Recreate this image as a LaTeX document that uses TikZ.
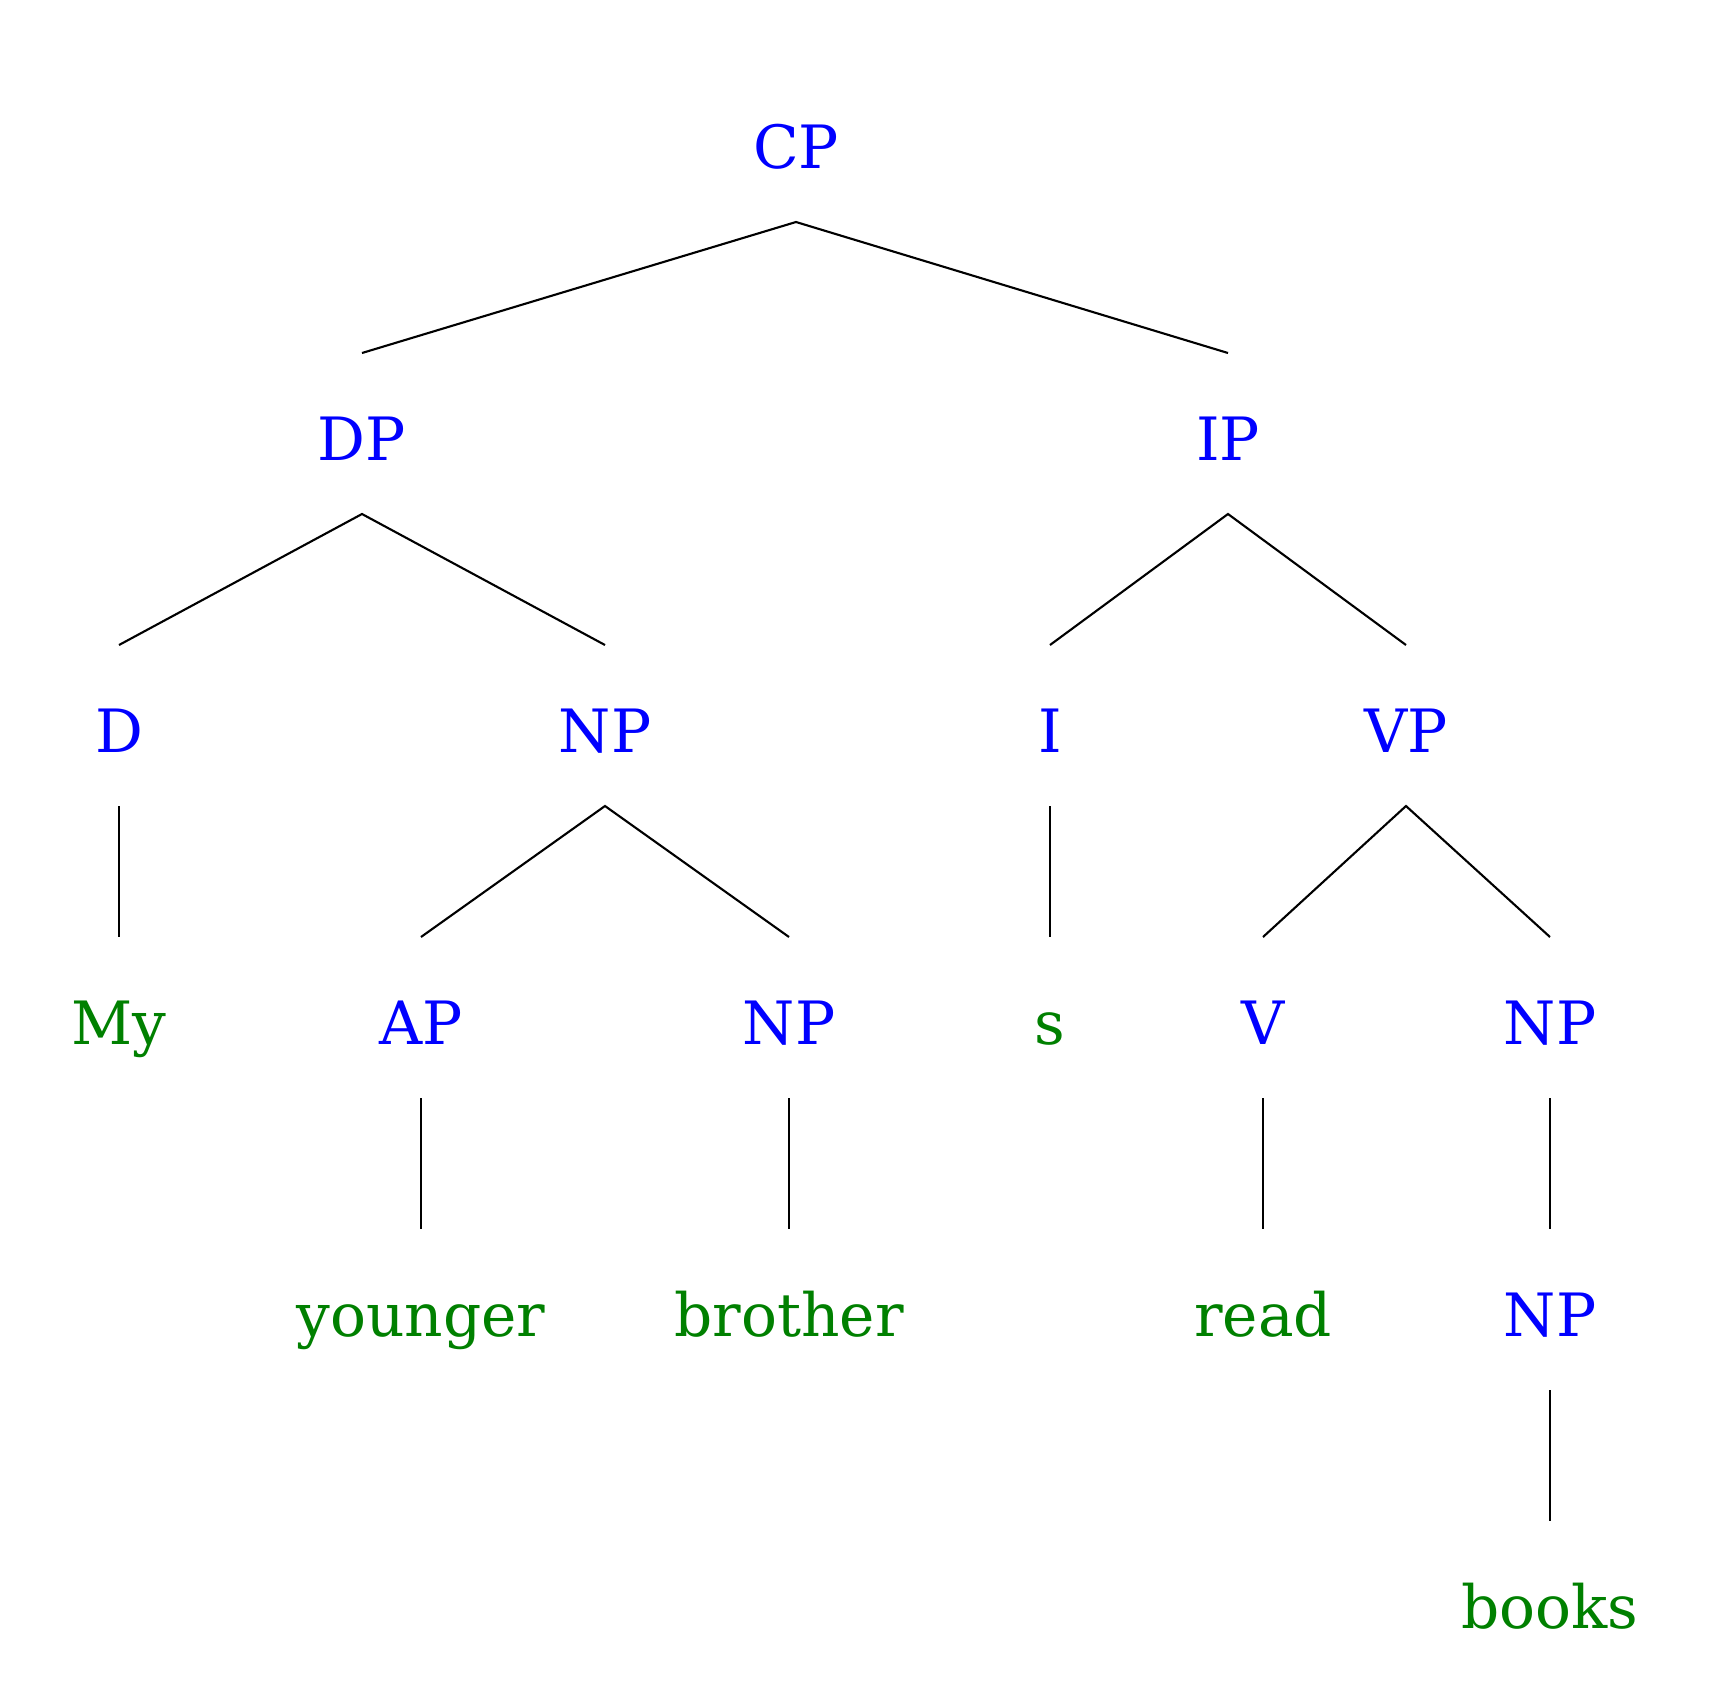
\documentclass[tikz,border=0pt]{standalone}
\usepackage{fontspec}
\setmainfont{DejaVu Serif}
\definecolor{treeblue}{RGB}{0,0,255}
\definecolor{treegreen}{RGB}{0,128,0}

\begin{document}
\begin{tikzpicture}

    \tikzstyle{label} = [anchor=base, inner xsep=0, inner ysep=0.2cm, outer sep=0, text height=0.87cm, text depth=0.34cm, font=\fontsize{17}{20}\selectfont];
    \tikzstyle{phrase} = [label, text=treeblue];
    \tikzstyle{word} = [label, text=treegreen];
    \tikzstyle{branch} = [line width=0.6pt, black];

    \useasboundingbox (0,0) rectangle (17.16,-17.08);

    % Level 0
    \node[phrase] (CP) at (7.96,-1.68) {CP};

    % Level 1
    \node[phrase] (DP) at (3.62,-4.60) {DP};
    \node[phrase] (IP) at (12.28,-4.60) {IP};

    % Level 2
    \node[phrase] (D) at (1.19,-7.52) {D};
    \node[phrase] (NP1) at (6.05,-7.52) {NP};
    \node[phrase] (I) at (10.50,-7.52) {I};
    \node[phrase] (VP) at (14.06,-7.52) {VP};

    % Level 3
    \node[word] (My) at (1.19,-10.44) {My};
    \node[phrase] (AP) at (4.21,-10.44) {AP};
    \node[phrase] (NP2) at (7.89,-10.44) {NP};
    \node[word] (S) at (10.50,-10.44) {s};
    \node[phrase] (V) at (12.63,-10.44) {V};
    \node[phrase] (NP3) at (15.50,-10.44) {NP};

    % Level 4
    \node[word] (Younger) at (4.21,-13.36) {younger};
    \node[word] (Brother) at (7.89,-13.36) {brother};
    \node[word] (Read) at (12.63,-13.36) {read};
    \node[phrase] (NP4) at (15.50,-13.36) {NP};

    % Level 5
    \node[word] (Books) at (15.50,-16.28) {books};

    \draw [branch] (DP.north) -- (CP.south) -- (IP.north);
    \draw [branch] (D.north) -- (DP.south) -- (NP1.north);
    \draw [branch] (I.north) -- (IP.south) -- (VP.north);
    \draw [branch] (D.south) -- (My.north);
    \draw [branch] (AP.north) -- (NP1.south) -- (NP2.north);
    \draw [branch] (I.south) -- (S.north);
    \draw [branch] (V.north) -- (VP.south) -- (NP3.north);
    \draw [branch] (AP.south) -- (Younger.north);
    \draw [branch] (NP2.south) -- (Brother.north);
    \draw [branch] (V.south) -- (Read.north);
    \draw [branch] (NP3.south) -- (NP4.north);
    \draw [branch] (NP4.south) -- (Books.north);

\end{tikzpicture}
\end{document}
